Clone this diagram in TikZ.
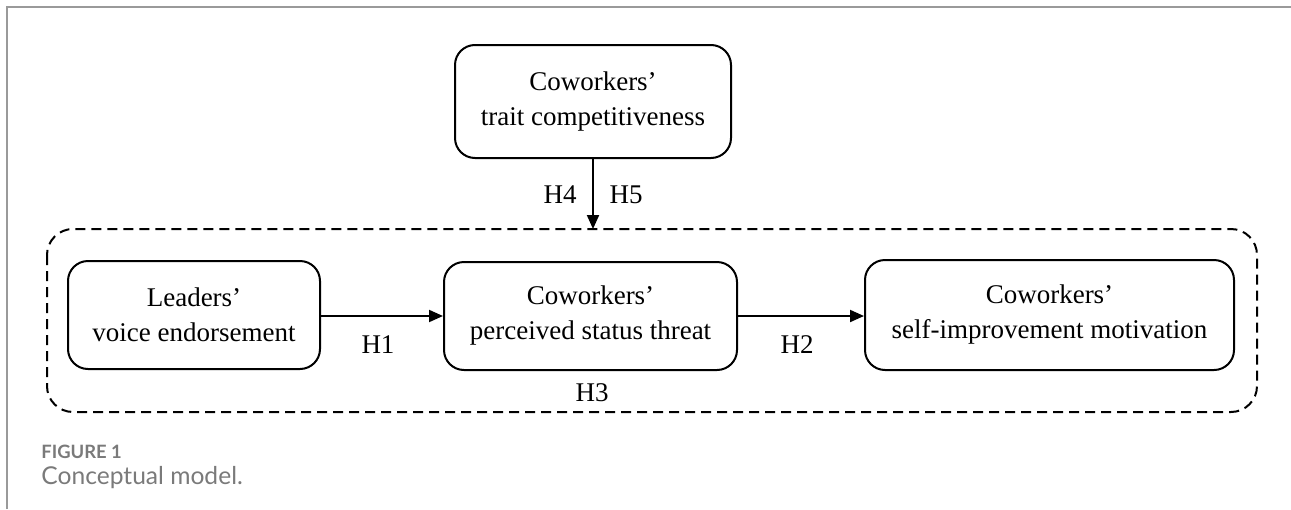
\documentclass[tikz,border=0pt]{standalone}
\usepackage{fontspec}
\setmainfont{Liberation Serif}
\newfontfamily\capfont{Lato}
\usetikzlibrary{arrows.meta}
\definecolor{framegray}{HTML}{9A9A9A}
\definecolor{capgray}{HTML}{7A7A7A}
\begin{document}
\begin{tikzpicture}[x=0.5pt,y=-0.5pt,
  box/.style={draw,line width=1pt,rounded corners=10pt,align=center,
    font=\fontsize{13.5}{17.5}\selectfont,inner sep=0pt},
  lab/.style={font=\fontsize{13.5}{16}\selectfont,inner sep=0pt},
  arr/.style={-{Triangle[length=7pt,width=6pt]},line width=1pt},
  grp/.style={draw,dashed,dash pattern=on 5pt off 3pt,line width=1pt,rounded corners=13pt}]
\useasboundingbox (0,0) rectangle (1291,509);
\draw[framegray,line width=1pt] (7,509) -- (7,7) -- (1291,7);
\node[box,minimum width=138pt,minimum height=56.5pt] (top) at (593,101.5) {Coworkers'\\trait competitiveness};
\node[box,minimum width=126pt,minimum height=54pt] (lead) at (194,315) {Leaders'\\voice endorsement};
\node[box,minimum width=146.5pt,minimum height=54pt] (mid) at (590.5,316) {Coworkers'\\perceived status threat};
\node[box,minimum width=184.5pt,minimum height=55pt] (out) at (1049.5,315) {Coworkers'\\self-improvement motivation};
\draw[grp] (47,229) rectangle (1257,412);
\coordinate (gtop) at (593,229);
\draw[arr] (top.south) -- (gtop);
\draw[arr] (lead.east |- 0,316) -- (mid.west |- 0,316);
\draw[arr] (mid.east |- 0,316) -- (out.west |- 0,316);
\node[lab] (h4) at (560,195) {H4};
\node[lab] (h5) at (626,195) {H5};
\node[lab] (h1) at (378,345) {H1};
\node[lab] (h2) at (797,345) {H2};
\node[lab] (h3) at (592,393) {H3};
\node[anchor=west,inner sep=0pt,text=capgray,font=\capfont\bfseries\fontsize{9.2}{11}\selectfont] (fig) at (41,452) {FIGURE 1};
\node[anchor=west,inner sep=0pt,text=capgray,font=\capfont\fontsize{12.3}{14}\selectfont] (cap) at (41,478) {Conceptual model.};
\end{tikzpicture}
\end{document}
